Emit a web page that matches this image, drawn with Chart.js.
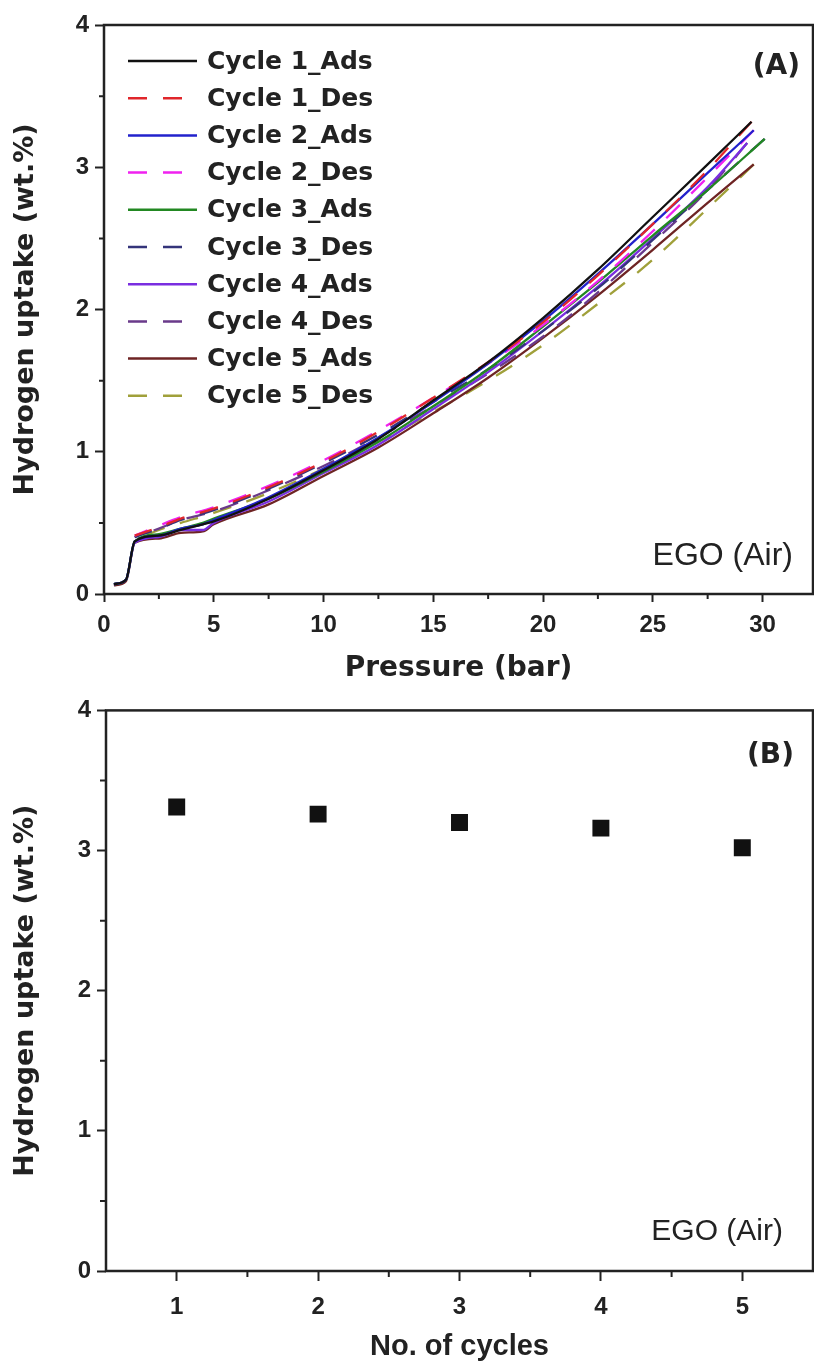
<!DOCTYPE html>
<html>
<head>
<meta charset="utf-8">
<title>Hydrogen uptake cycles</title>
<script src="https://cdn.jsdelivr.net/npm/chart.js@4.4.1/dist/chart.umd.min.js"></script>
<style>
  html, body { margin: 0; padding: 0; background: #fff; }
  .panel { position: absolute; left: 0; width: 814px; }
  #panelA { top: 0; height: 690px; }
  #panelB { top: 690px; height: 675px; }
</style>
</head>
<body>
<div class="panel" id="panelA"><canvas id="chartA" width="814" height="690"></canvas></div>
<div class="panel" id="panelB"><canvas id="chartB" width="814" height="675"></canvas></div>
<script>
(function () {
    'use strict';

    // (A) pressure points (bar) shared by the runs; the last point of each run is in endPressure
    const pressureAds = [0.45, 1.0, 1.4, 2.5, 3.5, 4.5, 5, 7.5, 10, 12.5, 15, 17.5, 20, 22.5, 25, 27.5];
    const pressureDes = [27.5, 25, 22.5, 20, 17.5, 15, 12.5, 10, 7.5, 5, 3.5, 2.5, 1.4];
    const endPressure = [29.5, 29.6, 30.1, 29.3, 29.6];

    // uptake (wt.%)
    const cycle1Ads = [0.07, 0.10, 0.37, 0.41, 0.45, 0.49, 0.51, 0.67, 0.87, 1.09, 1.36, 1.63, 1.94, 2.28, 2.65, 3.02, 3.32];
    const cycle2Ads = [0.07, 0.10, 0.37, 0.41, 0.46, 0.49, 0.52, 0.68, 0.88, 1.10, 1.35, 1.62, 1.92, 2.25, 2.60, 2.96, 3.26];
    const cycle3Ads = [0.07, 0.10, 0.37, 0.42, 0.46, 0.50, 0.53, 0.67, 0.86, 1.07, 1.32, 1.58, 1.88, 2.19, 2.52, 2.84, 3.20];
    const cycle4Ads = [0.07, 0.10, 0.36, 0.40, 0.45, 0.45, 0.50, 0.65, 0.85, 1.05, 1.30, 1.56, 1.85, 2.16, 2.50, 2.86, 3.17];
    const cycle5Ads = [0.06, 0.09, 0.36, 0.39, 0.43, 0.44, 0.49, 0.63, 0.83, 1.03, 1.27, 1.52, 1.80, 2.10, 2.42, 2.75, 3.02];

    const cycle1Des = [3.32, 2.98, 2.60, 2.24, 1.91, 1.63, 1.38, 1.14, 0.93, 0.75, 0.60, 0.53, 0.47, 0.41];
    const cycle2Des = [3.26, 2.93, 2.55, 2.20, 1.89, 1.62, 1.38, 1.15, 0.94, 0.76, 0.61, 0.54, 0.48, 0.41];
    const cycle3Des = [3.20, 2.84, 2.49, 2.15, 1.85, 1.58, 1.35, 1.12, 0.92, 0.74, 0.59, 0.52, 0.46, 0.40];
    const cycle4Des = [3.17, 2.84, 2.47, 2.12, 1.81, 1.55, 1.32, 1.10, 0.90, 0.73, 0.58, 0.52, 0.46, 0.40];
    const cycle5Des = [3.02, 2.71, 2.35, 2.04, 1.75, 1.50, 1.28, 1.07, 0.88, 0.71, 0.57, 0.50, 0.45, 0.38];

    const adsRuns = [cycle1Ads, cycle2Ads, cycle3Ads, cycle4Ads, cycle5Ads];
    const desRuns = [cycle1Des, cycle2Des, cycle3Des, cycle4Des, cycle5Des];
    const adsColors = ['#111111', '#2222cc', '#228822', '#7a2ee0', '#6e2424'];
    const desColors = ['#e0262b', '#f022f0', '#34347a', '#6a3a8a', '#a0a03a'];

    // (B) maximum uptake per cycle
    const cycleNumbers = [1, 2, 3, 4, 5];
    const maxUptake = [3.31, 3.26, 3.20, 3.16, 3.02];

    const ink = '#222222';
    const tickFamily = '"Liberation Sans", Arial, sans-serif';
    const boldFamily = '"DejaVu Sans", sans-serif';

    // box round the plot area plus the short minor ticks
    const framePlugin = {
        id: 'frame',
        afterDatasetsDraw(chart, args, opts) {
            const {ctx, chartArea: a, scales} = chart;
            ctx.save();
            ctx.strokeStyle = ink;
            ctx.lineWidth = 2.5;
            ctx.strokeRect(a.left, a.top, a.right - a.left, a.bottom - a.top);

            ctx.lineWidth = 2;
            const xs = scales.x, ys = scales.y;
            ctx.beginPath();
            for (let v = opts.xStart; v < xs.max - 1e-6; v += opts.xMajor) {
                const px = xs.getPixelForValue(v);
                if (px <= a.left + 1) continue;
                ctx.moveTo(px, a.bottom);
                ctx.lineTo(px, a.bottom + opts.len);
            }
            for (let v = opts.yMinor; v < ys.max; v += opts.yMajor) {
                const py = ys.getPixelForValue(v);
                ctx.moveTo(a.left, py);
                ctx.lineTo(a.left - opts.len, py);
            }
            ctx.stroke();
            ctx.restore();
        }
    };

    const notesPlugin = {
        id: 'notes',
        afterDraw(chart, args, opts) {
            const {ctx, chartArea: a} = chart;
            ctx.save();
            ctx.fillStyle = ink;
            ctx.textAlign = 'right';
            ctx.textBaseline = 'middle';
            (opts.items || []).forEach(n => {
                ctx.font = n.font;
                const y = n.fromTop != null ? a.top + n.fromTop : a.bottom - n.fromBottom;
                ctx.fillText(n.text, a.right - n.fromRight, y);
            });
            ctx.restore();
        }
    };

    const insideLegendPlugin = {
        id: 'insideLegend',
        afterDraw(chart, args, opts) {
            if (!opts.show) return;
            const {ctx, chartArea: a} = chart;
            ctx.save();
            ctx.font = opts.font;
            ctx.textBaseline = 'middle';
            ctx.textAlign = 'left';
            chart.data.datasets.forEach((ds, i) => {
                const y = a.top + opts.top + i * opts.rowGap;
                const x0 = a.left + opts.left;
                ctx.strokeStyle = ds.borderColor;
                ctx.lineWidth = 2.5;
                ctx.setLineDash(ds.borderDash || []);
                ctx.beginPath();
                ctx.moveTo(x0, y);
                ctx.lineTo(x0 + opts.lineLen, y);
                ctx.stroke();
                ctx.setLineDash([]);
                ctx.fillStyle = ink;
                ctx.fillText(ds.label, x0 + opts.textGap, y + 1);
            });
            ctx.restore();
        }
    };

    function buildIsotherms() {
        const datasets = [];
        adsRuns.forEach((ads, c) => {
            const adsX = pressureAds.concat(endPressure[c]);
            const desX = [endPressure[c]].concat(pressureDes);
            datasets.push({
                label: 'Cycle ' + (c + 1) + '_Ads',
                data: ads.map((v, k) => ({x: adsX[k], y: v})),
                borderColor: adsColors[c],
                borderWidth: 2.3
            });
            datasets.push({
                label: 'Cycle ' + (c + 1) + '_Des',
                data: desRuns[c].map((v, k) => ({x: desX[k], y: v})),
                borderColor: desColors[c],
                borderWidth: 2.3,
                borderDash: [19, 16]
            });
        });
        return datasets;
    }

    // fixed axis band; drop the label padding Chart.js adds at the ends
    function fixHeight(h) {
        return s => {
            s.height = h;
            s.paddingLeft = 0;
            s.paddingRight = 0;
        };
    }

    function axisY(width) {
        return {
            type: 'linear',
            min: 0,
            max: 4,
            afterFit: s => { s.width = width; },
            border: {display: false},
            grid: {drawOnChartArea: false, drawTicks: true, tickLength: 9, tickWidth: 2, tickColor: ink},
            ticks: {
                stepSize: 1,
                padding: 6,
                color: ink,
                font: {family: tickFamily, size: 24, weight: 'bold'}
            },
            title: {
                display: true,
                text: 'Hydrogen uptake (wt.%)',
                color: ink,
                font: {family: boldFamily, size: 27, weight: 'bold'},
                padding: {top: 10, bottom: 0}
            }
        };
    }

    function drawPanelA() {
        new Chart(document.getElementById('chartA'), {
            type: 'line',
            data: {datasets: buildIsotherms()},
            plugins: [framePlugin, notesPlugin, insideLegendPlugin],
            options: {
                responsive: false,
                animation: false,
                layout: {autoPadding: false, padding: {top: 25, right: 1, left: 0, bottom: 0}},
                elements: {
                    point: {radius: 0},
                    line: {cubicInterpolationMode: 'monotone', fill: false}
                },
                scales: {
                    x: {
                        type: 'linear',
                        min: 0,
                        max: 32.3,
                        afterFit: fixHeight(96),
                        border: {display: false},
                        grid: {drawOnChartArea: false, drawTicks: true, tickLength: 8, tickWidth: 2, tickColor: ink},
                        ticks: {
                            stepSize: 5,
                            includeBounds: false,
                            padding: 9,
                            maxRotation: 0,
                            color: ink,
                            font: {family: tickFamily, size: 24, weight: 'bold'}
                        },
                        title: {
                            display: true,
                            text: 'Pressure (bar)',
                            color: ink,
                            font: {family: boldFamily, size: 28, weight: 'bold'},
                            padding: {top: 0, bottom: 4}
                        }
                    },
                    y: axisY(104)
                },
                plugins: {
                    legend: {display: false},
                    tooltip: {enabled: false},
                    frame: {xStart: 2.5, xMajor: 5, yMinor: 0.5, yMajor: 1, len: 5},
                    insideLegend: {
                        show: true,
                        font: 'bold 25px ' + boldFamily,
                        left: 24,
                        top: 36,
                        rowGap: 37.2,
                        lineLen: 69,
                        textGap: 79
                    },
                    notes: {
                        items: [
                            {text: '(A)', font: 'bold 28px ' + boldFamily, fromRight: 13, fromTop: 42},
                            {text: 'EGO (Air)', font: '32px ' + tickFamily, fromRight: 20, fromBottom: 38}
                        ]
                    }
                }
            }
        });
    }

    function drawPanelB() {
        new Chart(document.getElementById('chartB'), {
            type: 'scatter',
            data: {
                datasets: [{
                    label: 'Hydrogen uptake',
                    data: cycleNumbers.map((c, i) => ({x: c, y: maxUptake[i]})),
                    pointStyle: 'rect',
                    pointRadius: 12,
                    pointBorderWidth: 0,
                    backgroundColor: '#111111',
                    borderColor: '#111111'
                }]
            },
            plugins: [framePlugin, notesPlugin],
            options: {
                responsive: false,
                animation: false,
                layout: {autoPadding: false, padding: {top: 13, right: 1, left: 0, bottom: 0}},
                scales: {
                    x: {
                        type: 'linear',
                        min: 0.5,
                        max: 5.5,
                        afterFit: fixHeight(94),
                        afterBuildTicks: s => { s.ticks = cycleNumbers.map(v => ({value: v})); },
                        border: {display: false},
                        grid: {drawOnChartArea: false, drawTicks: true, tickLength: 10, tickWidth: 2, tickColor: ink},
                        ticks: {
                            padding: 12,
                            maxRotation: 0,
                            color: ink,
                            font: {family: tickFamily, size: 24, weight: 'bold'}
                        },
                        title: {
                            display: true,
                            text: 'No. of cycles',
                            color: ink,
                            font: {family: tickFamily, size: 29, weight: 'bold'},
                            padding: {top: 0, bottom: 1}
                        }
                    },
                    y: axisY(106)
                },
                plugins: {
                    legend: {display: false},
                    tooltip: {enabled: false},
                    frame: {xStart: 1.5, xMajor: 1, yMinor: 0.5, yMajor: 1, len: 6},
                    notes: {
                        items: [
                            {text: '(B)', font: 'bold 28px ' + boldFamily, fromRight: 19, fromTop: 45},
                            {text: 'EGO (Air)', font: '30px ' + tickFamily, fromRight: 30, fromBottom: 39}
                        ]
                    }
                }
            }
        });
    }

    drawPanelA();
    drawPanelB();
})();
</script>
</body>
</html>
